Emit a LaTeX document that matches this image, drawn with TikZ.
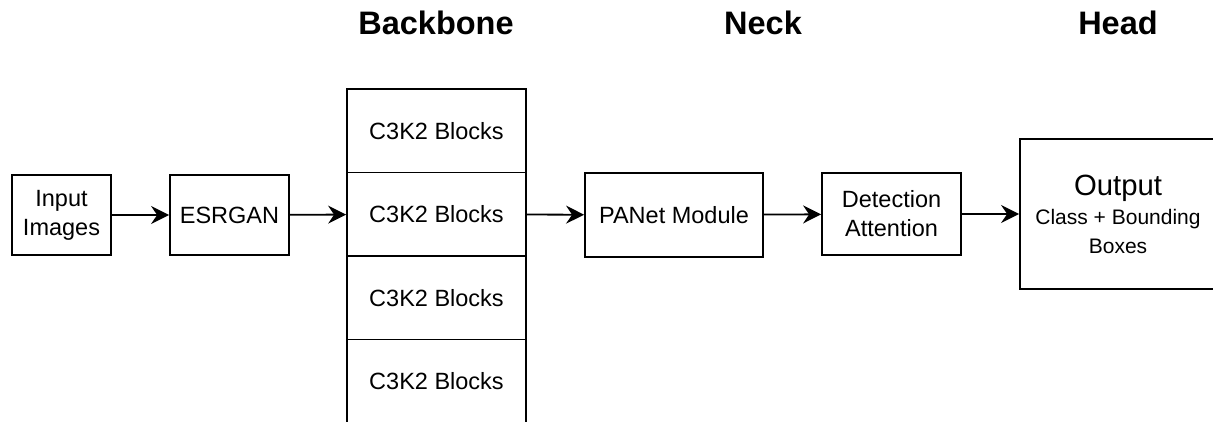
\documentclass[tikz,border=0pt]{standalone}
\usepackage{fontspec}
\setmainfont{Liberation Sans}
\usepackage{tikz}
\usepackage{xcolor}
\usetikzlibrary{arrows.meta}

\begin{document}
\begin{tikzpicture}[x=1pt,y=-1pt,
  line width=1.8pt,
  arrow/.style={-{Stealth[length=18pt,width=18pt,inset=6pt]}},
  box/.style={draw,inner sep=2pt,align=center,font=\fontsize{23.5}{29}\selectfont},
  stage/.style={anchor=base,font=\fontsize{32.5}{38}\selectfont\bfseries}]
\useasboundingbox (0,0) rectangle (1213,422);
% Stages
\node[stage] (bbtitle) at (436,35) {Backbone};
\node[stage] (necktitle) at (763,35) {Neck};
\node[stage] (headtitle) at (1118,35) {Head};
% Input
\node[box,minimum width=99pt,minimum height=80pt] (in) at (61.5,215) {Input\\Images};
\node[box,minimum width=119pt,minimum height=80pt] (esr) at (229.5,215) {ESRGAN};
% Backbone
\foreach \i in {1,...,4}
  \node[box,minimum width=179pt,minimum height=83.5pt] (b\i) at (436.5,{89+83.5*(\i-0.5)}) {C3K2 Blocks};
% Neck
\node[box,minimum width=178pt,minimum height=84pt] (pan) at (674,215) {PANet Module};
\node[box,minimum width=139pt,minimum height=82pt] (det) at (891.5,214) {Detection\\Attention};
% Head
\node[box,minimum width=196pt,minimum height=150pt,font=\fontsize{21}{29}\selectfont] (out) at (1118,214)
  {{\fontsize{29.3}{30}\selectfont Output}\\Class + Bounding\\Boxes};
% Arrows
\draw[arrow] (in) -- (esr);
\draw[arrow] (esr) -- (b2);
\draw[arrow] (b2) -- (pan);
\draw[arrow] (pan) -- (det);
\draw[arrow] (det) -- (out);
\end{tikzpicture}
\end{document}
